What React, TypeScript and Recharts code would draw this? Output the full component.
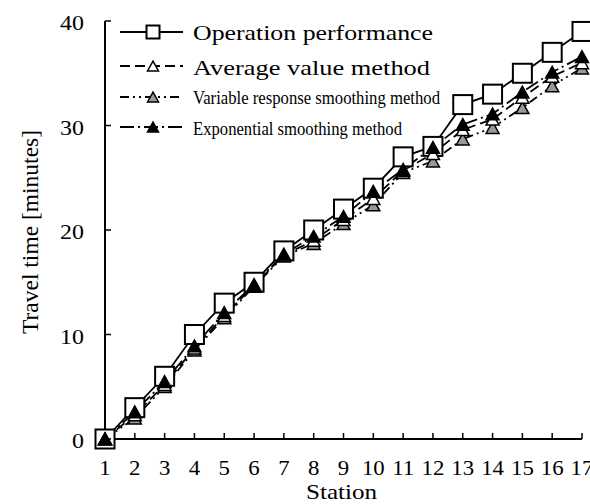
import { LineChart, Line, XAxis, YAxis, Legend } from 'recharts'

const stations = [1, 2, 3, 4, 5, 6, 7, 8, 9, 10, 11, 12, 13, 14, 15, 16, 17]
const operation = [0, 3, 6, 10, 13, 15, 18, 20, 22, 24, 27, 28, 32, 33, 35, 37, 39]
const average = [0, 2.3, 5.2, 8.7, 11.8, 14.7, 17.6, 19.0, 21.0, 23.0, 25.7, 27.3, 29.6, 30.6, 32.7, 34.7, 36.0]
const variable = [0, 2.0, 5.0, 8.5, 11.6, 14.6, 17.5, 18.7, 20.6, 22.4, 25.5, 26.6, 28.7, 29.8, 31.7, 33.8, 35.5]
const exponential = [0, 2.6, 5.5, 8.9, 12.1, 14.8, 17.7, 19.4, 21.3, 23.7, 25.8, 27.9, 30.1, 31.1, 33.2, 35.1, 36.6]
const yTicks = [0, 10, 20, 30, 40]

const names: Record<string, string> = {
  operation: 'Operation performance',
  average: 'Average value method',
  variable: 'Variable response smoothing method',
  exponential: 'Exponential smoothing method',
}

const rows = stations.map((s, i) => ({
  station: s,
  operation: operation[i],
  average: average[i],
  variable: variable[i],
  exponential: exponential[i],
}))

// Times-like font; the picture is a bit stretched sideways
const FONT = 'Liberation Serif, Times New Roman, serif'
const SX = 1.14
const txt = { fontFamily: FONT }

const DASH: Record<string, string | undefined> = {
  operation: undefined,
  average: '10 5',
  variable: '9 4 2 4 2 4',
  exponential: '14 4 2 4',
}

function Square({ cx, cy, size = 19 }: any) {
  return <rect x={cx - size / 2} y={cy - size / 2} width={size} height={size} fill="#fff" stroke="#000" strokeWidth={2} />
}

function Triangle({ cx, cy, fill, size = 13 }: any) {
  const h = size * 0.9
  const pts = `${cx},${cy - h / 2} ${cx - size / 2},${cy + h / 2} ${cx + size / 2},${cy + h / 2}`
  return <polygon points={pts} fill={fill} stroke="#000" strokeWidth={1.5} />
}

function marker(key: string, cx: number, cy: number, small = false) {
  if (key === 'operation') return <Square cx={cx} cy={cy} size={small ? 13 : 19} />
  const fill = key === 'average' ? '#fff' : key === 'variable' ? '#999' : '#000'
  return <Triangle cx={cx} cy={cy} fill={fill} size={small ? 11 : 13} />
}

function XTick({ x, y, payload }: any) {
  return (
    <g>
      <line x1={x} x2={x} y1={y} y2={y - 6} stroke="#000" strokeWidth={1.5} />
      <text transform={`translate(${x},${y + 36}) scale(${SX},1)`} textAnchor="middle" fontSize={20} style={txt} fill="#000">
        {payload.value}
      </text>
    </g>
  )
}

function YTick({ x, y, payload }: any) {
  return (
    <g>
      <line x1={x} x2={x + 6} y1={y} y2={y} stroke="#000" strokeWidth={1.5} />
      <text transform={`translate(${x - 21},${y + 9}) scale(${SX},1)`} textAnchor="end" fontSize={21} style={txt} fill="#000">
        {payload.value}
      </text>
    </g>
  )
}

const legendRows = [
  { key: 'operation', y: 16, base: 24, size: 21.5, len: 240 },
  { key: 'average', y: 50, base: 59, size: 21.5, len: 237 },
  { key: 'variable', y: 81, base: 88, size: 18.5, len: 247 },
  { key: 'exponential', y: 111, base: 119, size: 18.5, len: 209 },
]

function LegendBox() {
  return (
    <svg width={340} height={130} style={{ display: 'block', overflow: 'visible' }}>
      {legendRows.map(r => (
        <g key={r.key}>
          <line x1={8} x2={71} y1={r.y} y2={r.y} stroke="#000" strokeWidth={1.8} strokeDasharray={DASH[r.key]} />
          {marker(r.key, 41, r.y, true)}
          <text x={81} y={r.base} fontSize={r.size} style={txt} fill="#000" textLength={r.len} lengthAdjust="spacingAndGlyphs">
            {names[r.key]}
          </text>
        </g>
      ))}
    </svg>
  )
}

const order = ['operation', 'variable', 'average', 'exponential']

export default function App() {
  return (
    <div style={{ position: 'absolute', left: 0, top: 0 }}>
      <LineChart width={590} height={504} data={rows} margin={{ top: 21, right: 8, left: 0, bottom: 0 }}>
        <XAxis
          dataKey="station"
          type="number"
          domain={[1, 17]}
          ticks={stations}
          interval={0}
          tickSize={0}
          tickMargin={0}
          tick={<XTick />}
          height={65}
          axisLine={{ stroke: '#000', strokeWidth: 2 }}
          label={{
            content: ({ viewBox }: any) => (
              <text transform={`translate(${viewBox.x + viewBox.width / 2 - 2},${viewBox.y + 60}) scale(${SX},1)`} textAnchor="middle" fontSize={22} style={txt} fill="#000">
                Station
              </text>
            ),
          }}
        />
        <YAxis
          type="number"
          domain={[0, 40]}
          ticks={yTicks}
          width={105}
          tickSize={0}
          tickMargin={0}
          tick={<YTick />}
          axisLine={{ stroke: '#000', strokeWidth: 2 }}
          label={{
            content: ({ viewBox }: any) => (
              <text transform={`translate(${viewBox.x + 30},${viewBox.y + viewBox.height / 2 + 2}) rotate(-90)`} textAnchor="middle" dy="0.35em" fontSize={23.5} style={txt} fill="#000">
                Travel time [minutes]
              </text>
            ),
          }}
        />
        <Legend layout="vertical" align="center" verticalAlign="middle" content={() => <LegendBox />} wrapperStyle={{ left: 112, top: 16, width: 340 }} />
        {order.map(k => (
          <Line
            key={k}
            dataKey={k}
            name={names[k]}
            stroke="#000"
            strokeWidth={1.8}
            strokeDasharray={DASH[k]}
            dot={(p: any) => <g key={`${k}-${p.index}`}>{marker(k, p.cx, p.cy)}</g>}
            activeDot={false}
            isAnimationActive={false}
          />
        ))}
      </LineChart>
    </div>
  )
}
